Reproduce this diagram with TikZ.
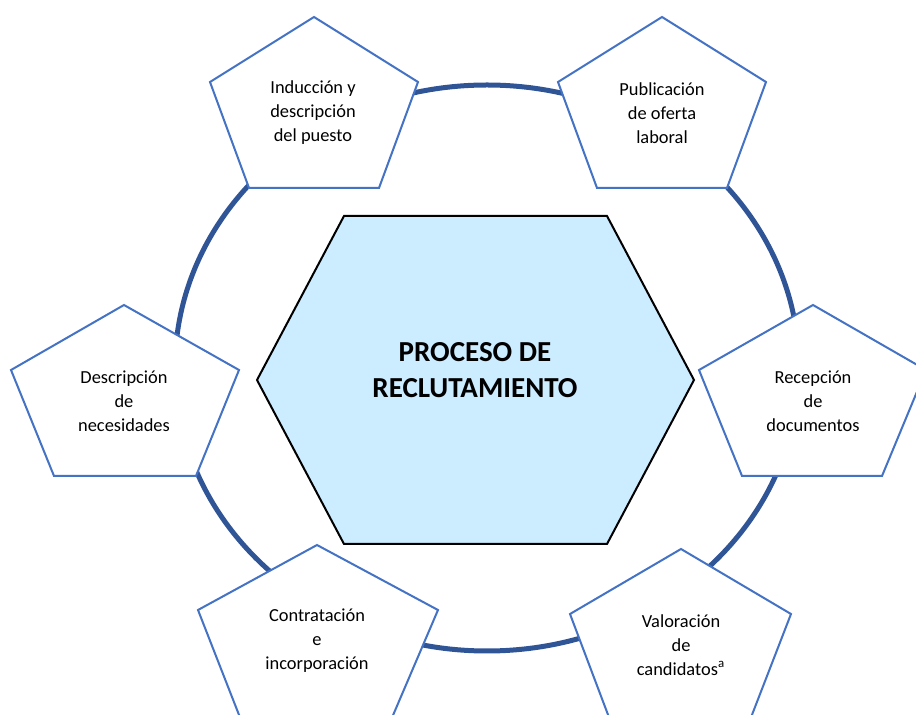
\documentclass[tikz,border=0pt]{standalone}
\usepackage{fontspec}
\setmainfont{Carlito}
\definecolor{ringblue}{RGB}{47,85,151}
\definecolor{boxblue}{RGB}{68,114,196}
\definecolor{hexfill}{RGB}{204,236,255}
\tikzset{
  stage/.style={draw=boxblue, line width=1pt, fill=white},
  stagetext/.style={align=center, inner sep=0.75pt, font=\fontsize{9.2}{12}\selectfont},
}

\begin{document}
\begin{tikzpicture}[x=0.50pt,y=0.50pt,yscale=-1,xscale=1]
\clip (0,0) rectangle (916,715);

%Shape: Ellipse
\draw [color=ringblue, line width=2.5pt] (487,368) ellipse [x radius=312, y radius=283];
%Shape: Hexagon
\draw [fill=hexfill, line width=1pt] (257,380) -- (344,216) -- (607,216) -- (694,380) -- (607,544) -- (344,544) -- cycle;

%Shape: Polygon
\draw [stage] (314,17) -- (418,82) -- (379,188) -- (249,188) -- (210,82) -- cycle;
%Shape: Polygon
\draw [stage] (662,17) -- (766,82) -- (727,188) -- (597,188) -- (558,82) -- cycle;
%Shape: Polygon
\draw [stage] (124,305) -- (239,370) -- (196,476) -- (54,476) -- (11,370) -- cycle;
%Shape: Polygon
\draw [stage] (813,305) -- (926,370) -- (882,476) -- (742,476) -- (699,370) -- cycle;
%Shape: Polygon
\draw [stage] (317,545) -- (438,610) -- (391,720) -- (241,720) -- (198,610) -- cycle;
%Shape: Polygon
\draw [stage] (681,549) -- (791,614) -- (750,720) -- (610,720) -- (570,614) -- cycle;

% Text Node
\node [align=center, inner sep=0.75pt, font=\fontsize{14.5}{18}\selectfont\bfseries] (proceso) at (475,370) {PROCESO DE\\RECLUTAMIENTO};
% Text Node
\node [stagetext] (induccion) at (313,113) {Inducción y\\descripción\\del puesto};
% Text Node
\node [stagetext] (publicacion) at (662,113) {Publicación\\de oferta\\laboral};
% Text Node
\node [stagetext] (necesidades) at (124,401) {Descripción\\de\\necesidades};
% Text Node
\node [stagetext] (recepcion) at (813,401) {Recepción\\de\\documentos};
% Text Node
\node [stagetext] (contratacion) at (317,641) {Contratación\\e\\incorporación};
% Text Node
\node [stagetext] (valoracion) at (681,645) {Valoración\\de\\candidatos\textsuperscript{a}};

\end{tikzpicture}
\end{document}
